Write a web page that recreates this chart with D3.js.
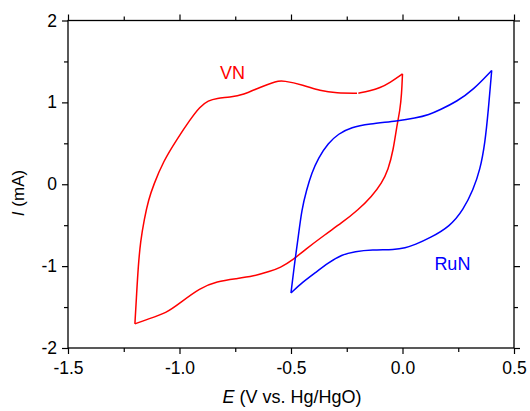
<!DOCTYPE html>
<html>
<head>
<meta charset="utf-8">
<script src="https://cdn.jsdelivr.net/npm/d3@7"></script>
<style>
  body { margin: 0; background: #fff; }
  text { font-family: "Liberation Sans", Arial, sans-serif; }
</style>
</head>
<body>
<div id="chart-area"></div>
<script>
// VN cycle, starts near -0.2 V going positive
var vnE = [-0.198, -0.146, -0.101, -0.056, 0.0, -0.004, -0.011, -0.026, -0.041, -0.064, -0.093, -0.138, -0.198,
  -0.273, -0.348, -0.437, -0.490, -0.549, -0.594, -0.669, -0.743, -0.833, -0.908, -0.998, -1.057, -1.147, -1.200,
  -1.192, -1.185, -1.175, -1.158, -1.139, -1.116, -1.073, -1.013, -0.953, -0.908, -0.871, -0.833, -0.774,
  -0.714, -0.639, -0.564, -0.535, -0.445, -0.370, -0.295, -0.204];
var vnI = [1.112, 1.140, 1.177, 1.241, 1.348, 1.100, 0.909, 0.705, 0.421, 0.177, 0.015, -0.149, -0.311,
  -0.473, -0.616, -0.799, -0.921, -1.022, -1.063, -1.124, -1.152, -1.185, -1.266, -1.449, -1.571, -1.652, -1.705,
  -1.327, -1.002, -0.700, -0.424, -0.189, -0.006, 0.278, 0.543, 0.787, 0.949, 1.022, 1.051, 1.063,
  1.091, 1.185, 1.262, 1.266, 1.213, 1.140, 1.112, 1.112];

// RuN cycle, starts at -0.5 V going positive
var ruE = [-0.500, -0.482, -0.467, -0.452, -0.430, -0.407, -0.378, -0.333, -0.288, -0.228, -0.153, -0.019,
  0.056, 0.120, 0.168, 0.243, 0.317, 0.400, 0.385, 0.370, 0.348, 0.317, 0.273, 0.213, 0.123, 0.056, 0.011,
  -0.034, -0.138, -0.213, -0.273, -0.333, -0.392, -0.452, -0.500];
var ruI = [-1.327, -0.921, -0.637, -0.311, -0.067, 0.137, 0.320, 0.502, 0.616, 0.698, 0.734, 0.774,
  0.807, 0.850, 0.909, 1.010, 1.152, 1.390, 0.909, 0.502, 0.177, -0.067, -0.311, -0.515, -0.656, -0.738, -0.778,
  -0.799, -0.799, -0.820, -0.860, -0.961, -1.083, -1.205, -1.327];

var xTicks = [-1.5, -1.0, -0.5, 0.0, 0.5];
var xMinor = [-1.25, -0.75, -0.25, 0.25];
var yTicks = [-2, -1, 0, 1, 2];
var yMinor = [-1.5, -0.5, 0.5, 1.5];

var W = 530, H = 411;
var margin = { left: 68, right: 16, top: 20.5, bottom: 63 };
var width = W - margin.left - margin.right,
    height = H - margin.top - margin.bottom;

var svg = d3.select("#chart-area").append("svg")
    .attr("width", W)
    .attr("height", H);
svg.append("rect").attr("width", W).attr("height", H).attr("fill", "#fff");

var g = svg.append("g")
    .attr("transform", "translate(" + margin.left + "," + margin.top + ")");

var x = d3.scaleLinear().domain([-1.5, 0.5]).range([0, width]);
var y = d3.scaleLinear().domain([-2, 2]).range([height, 0]);

// plain hyphen for negatives, as in the original
var fmtX = function(d) { return d3.format(".1f")(d).replace("\u2212", "-"); };
var fmtY = function(d) { return d3.format("d")(d).replace("\u2212", "-"); };

function styleAxis(sel, labels) {
    sel.select(".domain").remove();
    sel.selectAll("line").attr("stroke", "#000").attr("stroke-width", 1.2);
    sel.selectAll("text")
        .attr("font-size", 17.5)
        .attr("fill", "#000");
    if (!labels) sel.selectAll("text").remove();
}

// major ticks
g.append("g").attr("transform", "translate(0," + height + ")")
    .call(d3.axisBottom(x).tickValues(xTicks).tickFormat(fmtX).tickSize(6).tickPadding(8))
    .call(styleAxis, true);
g.append("g")
    .call(d3.axisTop(x).tickValues(xTicks).tickSize(6))
    .call(styleAxis, false);
g.append("g")
    .call(d3.axisLeft(y).tickValues(yTicks).tickFormat(fmtY).tickSize(6).tickPadding(5))
    .call(styleAxis, true);
g.append("g").attr("transform", "translate(" + width + ",0)")
    .call(d3.axisRight(y).tickValues(yTicks).tickSize(6))
    .call(styleAxis, false);

// minor ticks
g.append("g").attr("transform", "translate(0," + height + ")")
    .call(d3.axisBottom(x).tickValues(xMinor).tickSize(4)).call(styleAxis, false);
g.append("g")
    .call(d3.axisTop(x).tickValues(xMinor).tickSize(4)).call(styleAxis, false);
g.append("g")
    .call(d3.axisLeft(y).tickValues(yMinor).tickSize(4)).call(styleAxis, false);
g.append("g").attr("transform", "translate(" + width + ",0)")
    .call(d3.axisRight(y).tickValues(yMinor).tickSize(4)).call(styleAxis, false);

// frame
g.append("rect")
    .attr("width", width).attr("height", height)
    .attr("fill", "none").attr("stroke", "#000").attr("stroke-width", 1.3);

// split a cycle into branches at the turning points so vertices stay sharp
function branches(E, I) {
    var pts = E.map(function(e, i) { return [e, I[i]]; });
    var out = [], cur = [pts[0]], dir = 0;
    for (var i = 1; i < pts.length; i++) {
        var d = Math.sign(pts[i][0] - pts[i - 1][0]);
        if (dir !== 0 && d !== 0 && d !== dir) {
            out.push(cur);
            cur = [pts[i - 1]];
        }
        if (d !== 0) dir = d;
        cur.push(pts[i]);
    }
    out.push(cur);
    return out;
}

var line = d3.line()
    .x(function(d) { return x(d[0]); })
    .y(function(d) { return y(d[1]); })
    .curve(d3.curveBasis);

function drawCycle(E, I, colour) {
    g.append("g").selectAll("path")
        .data(branches(E, I))
        .enter()
        .append("path")
        .attr("d", line)
        .attr("fill", "none")
        .attr("stroke", colour)
        .attr("stroke-width", 1.5);
}
drawCycle(vnE, vnI, "#ff0000");
drawCycle(ruE, ruI, "#0000ff");

// curve labels
g.append("text")
    .attr("x", x(-0.818)).attr("y", y(1.287))
    .attr("font-size", 18).attr("fill", "#ff0000")
    .text("VN");
g.append("text")
    .attr("x", x(0.143)).attr("y", y(-1.05))
    .attr("font-size", 18).attr("fill", "#0000ff")
    .text("RuN");

// axis titles
var xt = svg.append("text")
    .attr("x", margin.left + width / 2 + 1).attr("y", 403)
    .attr("text-anchor", "middle").attr("font-size", 18);
xt.append("tspan").attr("font-style", "italic").text("E");
xt.append("tspan").text(" (V vs. Hg/HgO)");

var yt = svg.append("text")
    .attr("transform", "translate(24,193) rotate(-90)")
    .attr("text-anchor", "middle").attr("font-size", 17);
yt.append("tspan").attr("font-style", "italic").text("I");
yt.append("tspan").text(" (mA)");
</script>
</body>
</html>
